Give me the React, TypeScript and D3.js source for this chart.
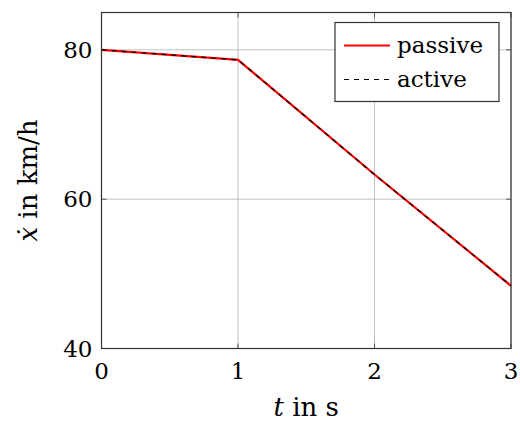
import React, { useRef, useEffect } from "react";
import * as d3 from "d3";

// time in s
const times = [0, 1, 2, 3];
// speed in km/h
const passive = [80, 78.66, 63.3, 48.4];
const active = [80, 78.66, 63.3, 48.4];
const xTicks = [0, 1, 2, 3];
const yTicks = [40, 60, 80];
const seriesNames = ["passive", "active"];

export default function App() {
  const svgRef = useRef<SVGSVGElement | null>(null);

  useEffect(() => {
    const W = 520, H = 424;
    const margin = { top: 12.5, right: 9, bottom: 75.5, left: 101.5 };
    const width = W - margin.left - margin.right;
    const height = H - margin.top - margin.bottom;
    const font = "'DejaVu Serif', serif";
    const fs = 23;
    const labelFs = 26;

    const svg = d3.select(svgRef.current).attr("width", W).attr("height", H);
    svg.selectAll("*").remove();

    const g = svg.append("g").attr("transform", `translate(${margin.left},${margin.top})`);

    const x = d3.scaleLinear().domain([0, 3]).range([0, width]);
    const y = d3.scaleLinear().domain([40, 85]).range([height, 0]);

    // grid
    g.append("g").selectAll("line").data(xTicks).join("line")
      .attr("x1", d => x(d)).attr("x2", d => x(d)).attr("y1", 0).attr("y2", height)
      .attr("stroke", "#c0c0c0").attr("stroke-width", 1);
    g.append("g").selectAll("line").data(yTicks).join("line")
      .attr("x1", 0).attr("x2", width).attr("y1", d => y(d)).attr("y2", d => y(d))
      .attr("stroke", "#c0c0c0").attr("stroke-width", 1);

    // tick marks inside, both sides
    const tl = 5;
    const tm = g.append("g").attr("stroke", "#555").attr("stroke-width", 1);
    xTicks.forEach(t => {
      tm.append("line").attr("x1", x(t)).attr("x2", x(t)).attr("y1", height).attr("y2", height - tl);
      tm.append("line").attr("x1", x(t)).attr("x2", x(t)).attr("y1", 0).attr("y2", tl);
    });
    yTicks.forEach(t => {
      tm.append("line").attr("x1", 0).attr("x2", tl).attr("y1", y(t)).attr("y2", y(t));
      tm.append("line").attr("x1", width).attr("x2", width - tl).attr("y1", y(t)).attr("y2", y(t));
    });

    const line = d3.line<number>().x((_, i) => x(times[i])).y(d => y(d));

    g.append("path").datum(passive).attr("d", line)
      .attr("fill", "none").attr("stroke", "#ff0000").attr("stroke-width", 2.2);
    g.append("path").datum(active).attr("d", line)
      .attr("fill", "none").attr("stroke", "#000").attr("stroke-width", 1.2)
      .attr("stroke-dasharray", "5,5");

    // frame
    g.append("rect").attr("x", 0).attr("y", 0).attr("width", width).attr("height", height)
      .attr("fill", "none").attr("stroke", "#333").attr("stroke-width", 1.2);

    // tick labels
    g.append("g").selectAll("text").data(xTicks).join("text")
      .attr("x", d => x(d)).attr("y", height + 30)
      .attr("text-anchor", "middle").attr("font-family", font).attr("font-size", fs)
      .text(d => d);
    g.append("g").selectAll("text").data(yTicks).join("text")
      .attr("x", -9).attr("y", d => y(d)).attr("dy", "0.36em")
      .attr("text-anchor", "end").attr("font-family", font).attr("font-size", fs)
      .text(d => d);

    // axis labels
    const xl = svg.append("text")
      .attr("x", margin.left + width / 2).attr("y", 416)
      .attr("text-anchor", "middle").attr("font-family", font).attr("font-size", labelFs);
    xl.append("tspan").attr("font-style", "italic").text("t");
    xl.append("tspan").text(" in s");

    const yl = svg.append("text")
      .attr("transform", `translate(37,${margin.top + height / 2}) rotate(-90)`)
      .attr("text-anchor", "middle").attr("font-family", font).attr("font-size", labelFs);
    yl.append("tspan").attr("font-style", "italic").text("ẋ");
    yl.append("tspan").text(" in km/h");

    // legend
    const lg = svg.append("g").attr("transform", "translate(335,22.5)");
    lg.append("rect").attr("width", 164).attr("height", 79)
      .attr("fill", "white").attr("stroke", "#333").attr("stroke-width", 1.2);
    const items = lg.selectAll("g.item").data(seriesNames).join("g")
      .attr("class", "item")
      .attr("transform", (_, i) => `translate(0,${23 + i * 34})`);
    items.append("line").attr("x1", 9).attr("x2", 55).attr("y1", 0).attr("y2", 0)
      .attr("stroke", (_, i) => (i === 0 ? "#ff0000" : "#000"))
      .attr("stroke-width", (_, i) => (i === 0 ? 2.2 : 1.2))
      .attr("stroke-dasharray", (_, i) => (i === 0 ? null : "5,5"));
    items.append("text").attr("x", 62).attr("y", 0).attr("dy", "0.32em")
      .attr("font-family", font).attr("font-size", fs).text(d => d);
  }, []);

  return (
    <div style={{ position: "absolute", left: 0, top: 0 }}>
      <svg ref={svgRef} style={{ display: "block" }} />
    </div>
  );
}
